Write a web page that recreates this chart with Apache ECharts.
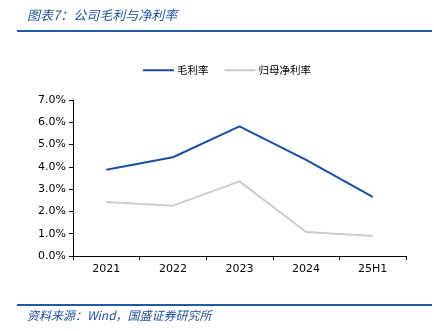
<!DOCTYPE html>
<html><head><meta charset="utf-8">
<script src="https://cdn.jsdelivr.net/npm/echarts@6/dist/echarts.min.js"></script>
<style>html,body{margin:0;padding:0;background:#fff}#c{width:434px;height:331px}</style>
</head><body><div id="c"></div>
<script>
const categories = ['2021','2022','2023','2024','25H1'];
const grossMargin = [3.87, 4.43, 5.82, 4.31, 2.65];
const netMargin = [2.42, 2.26, 3.35, 1.08, 0.90];
const yTicks = [0, 1, 2, 3, 4, 5, 6, 7];

const chart = echarts.init(document.getElementById('c'), null, {renderer:'canvas'});
chart.setOption({
  animation:false,
  backgroundColor:'#fff',
  graphic:[
    {type:'text', left:27, top:9, style:{text:'图表7：公司毛利与净利率', font:'italic 13px "Noto Sans CJK SC"', fill:'#1f4e9c'}},
    {type:'rect', shape:{x:17, y:30, width:415, height:2}, style:{fill:'#1f5aa8'}},
    {type:'rect', shape:{x:17, y:304, width:415, height:2}, style:{fill:'#1f5aa8'}},
    {type:'text', left:27, top:309, style:{text:'资料来源：Wind，国盛证券研究所', font:'italic 12px "Noto Sans CJK SC"', fill:'#1f4e9c'}}
  ],
  legend:{
    top:60, left:138, itemWidth:31, itemHeight:2, itemGap:16,
    icon:'rect',
    textStyle:{fontSize:10.5, color:'#000', fontFamily:'"Noto Sans CJK SC"', padding:[0,0,0,-2]},
    data:['毛利率','归母净利率']
  },
  grid:{left:73, right:28, top:100, bottom:75},
  xAxis:{
    type:'category', data:categories, boundaryGap:true,
    axisLine:{lineStyle:{color:'#000', width:1}},
    axisTick:{show:true, length:4, alignWithLabel:false, lineStyle:{color:'#000'}},
    axisLabel:{fontSize:11, color:'#000', margin:8, fontFamily:'Verdana, "DejaVu Sans"'}
  },
  yAxis:{
    type:'value', min:yTicks[0], max:yTicks[yTicks.length-1], interval:1,
    axisLine:{show:true, lineStyle:{color:'#000', width:1}},
    axisTick:{show:true, length:4, lineStyle:{color:'#000'}},
    splitLine:{show:false},
    axisLabel:{fontSize:11, color:'#000', margin:7, fontFamily:'Verdana, "DejaVu Sans"', formatter:v=>v.toFixed(1)+'%'}
  },
  series:[
    {name:'毛利率', type:'line', data:grossMargin, symbol:'none', lineStyle:{color:'#1a4ea0', width:2}, itemStyle:{color:'#1a4ea0'}},
    {name:'归母净利率', type:'line', data:netMargin, symbol:'none', lineStyle:{color:'#cccccc', width:2}, itemStyle:{color:'#cccccc'}}
  ]
});
</script></body></html>
